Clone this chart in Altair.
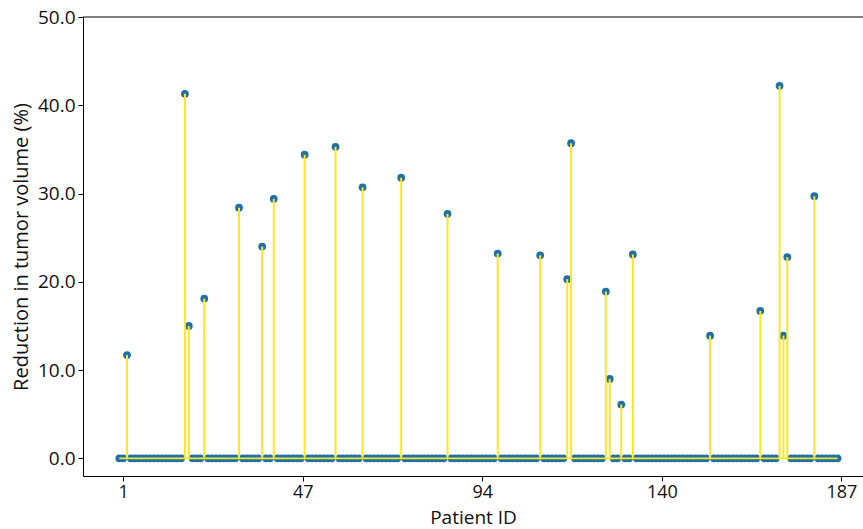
import altair as alt
import pandas as pd

# Patient positions (index along the x axis) and tumour-volume reduction (%)
patient_positions = list(range(0, 187))
responder_positions = [2, 17, 18, 22, 31, 37, 40, 48, 56, 63, 73, 85, 98, 109,
                       116, 117, 126, 127, 130, 133, 153, 166, 171, 172, 173, 180]
responder_reduction = [11.7, 41.3, 15.0, 18.1, 28.4, 24.0, 29.4, 34.4, 35.3, 30.7,
                       31.8, 27.7, 23.2, 23.0, 20.3, 35.7, 18.9, 9.0, 6.1, 23.1,
                       13.9, 16.7, 42.2, 13.9, 22.8, 29.7]
x_tick_values = [1, 47.5, 94, 140.5, 187]
y_tick_values = [0, 10, 20, 30, 40, 50]

lookup = dict(zip(responder_positions, responder_reduction))
df = pd.DataFrame({
    "pid": patient_positions,
    "reduction": [lookup.get(p, 0.0) for p in patient_positions],
})
df["zero"] = 0.0
base_df = pd.DataFrame({"x0": [min(patient_positions)], "x1": [max(patient_positions)], "y": [0.0]})

BLUE = "#1f6fa8"
YELLOW = "#fde725"
FONT = "Open Sans"

x_scale = alt.Scale(domain=[-9.4, 192.6], nice=False, zero=False)
y_scale = alt.Scale(domain=[-2, 50], nice=False, zero=False)

x_axis = alt.Axis(values=x_tick_values, labelExpr="floor(datum.value)", title="Patient ID",
                  grid=False, tickSize=5, labelPadding=2, titlePadding=7,
                  labelFontSize=18, titleFontSize=19)
y_axis = alt.Axis(values=y_tick_values, format=".1f", title="Reduction in tumor volume (%)",
                  grid=False, tickSize=5, labelPadding=3, titlePadding=6,
                  labelFontSize=19, titleFontSize=20)

dots = alt.Chart(df).mark_circle(size=60, opacity=1, color=BLUE).encode(
    x=alt.X("pid:Q", scale=x_scale, axis=x_axis),
    y=alt.Y("reduction:Q", scale=y_scale, axis=y_axis),
)

stems = alt.Chart(df[df["reduction"] > 0]).mark_rule(color=YELLOW, strokeWidth=2).encode(
    x=alt.X("pid:Q", scale=x_scale),
    y=alt.Y("zero:Q", scale=y_scale),
    y2="reduction:Q",
)

baseline = alt.Chart(base_df).mark_rule(color=YELLOW, strokeWidth=1.6).encode(
    x=alt.X("x0:Q", scale=x_scale),
    x2="x1:Q",
    y=alt.Y("y:Q", scale=y_scale),
)

top_spine = alt.Chart(base_df).mark_rule(color="black", strokeWidth=1).encode(
    x=alt.value(0), x2=alt.value(780), y=alt.value(0)
)

chart = alt.layer(dots, stems, baseline, top_spine).properties(
    width=780, height=459,
    autosize=alt.AutoSizeParams(type="none"),
    padding={"left": 83, "top": 17, "right": 0, "bottom": 53},
    background="white",
).configure_view(stroke=None).configure_axis(
    labelFont=FONT, titleFont=FONT,
    labelColor="#111", titleColor="#111", titleFontWeight="normal",
    domainColor="black", tickColor="black", domainWidth=1, tickWidth=1,
)

chart.save("out.html", embed_options={"renderer": "svg", "actions": False})
